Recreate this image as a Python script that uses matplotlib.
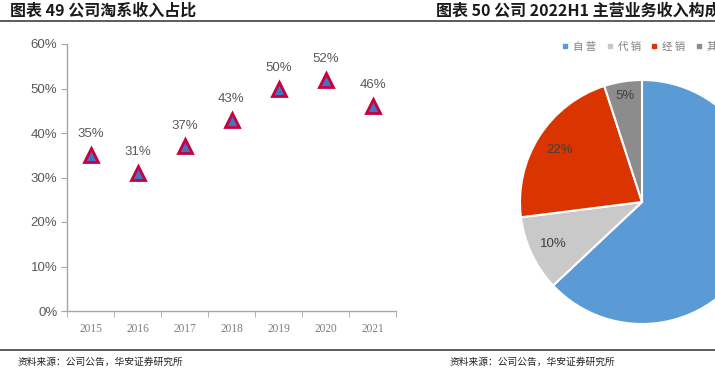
import math
import matplotlib
matplotlib.use("Agg")
import matplotlib.pyplot as plt
from matplotlib.lines import Line2D
from matplotlib.ticker import PercentFormatter

plt.rcParams['font.family'] = ['Noto Sans CJK SC', 'DejaVu Sans']

# left chart data
years = ['2015', '2016', '2017', '2018', '2019', '2020', '2021']
tao_share = [35, 31, 37, 43, 50, 52, 46]

# right chart data
pie_labels = ['自营', '代销', '经销', '其他']
pie_values = [63, 10, 22, 5]
pie_colors = ['#5B9BD5', '#C9C9C9', '#DA3500', '#8C8C8C']

W, H = 715, 377
fig = plt.figure(figsize=(W / 100, H / 100), dpi=100)

def fx(px):
    return px / W

def fy(py):
    return 1 - py / H

# titles and rules
fig.text(fx(10), fy(11), '图表 49 公司淘系收入占比', fontsize=11.5, fontweight='bold',
         color='#1a1a1a', va='center', ha='left')
fig.text(fx(436), fy(11), '图表 50 公司 2022H1 主营业务收入构成', fontsize=11.5, fontweight='bold',
         color='#1a1a1a', va='center', ha='left')
fig.add_artist(Line2D([0, 1], [fy(21), fy(21)], color='#404040', lw=1.2))
fig.add_artist(Line2D([0, 1], [fy(349.5), fy(349.5)], color='#404040', lw=1.2))
fig.text(fx(18), fy(362), '资料来源：公司公告，华安证券研究所', fontsize=7, color='#222222', va='center')
fig.text(fx(450), fy(362), '资料来源：公司公告，华安证券研究所', fontsize=7, color='#222222', va='center')

# left scatter chart
ax = fig.add_axes([fx(67), fy(311), fx(396) - fx(67), fy(44) - fy(311)])
x = list(range(len(years)))
ax.plot(x, tao_share, linestyle='none', marker='^', markersize=10.5,
        markerfacecolor='#4472C4', markeredgecolor='#C8003C', markeredgewidth=2)
for xi, v in zip(x, tao_share):
    ax.annotate(f'{v}%', (xi, v), xytext=(0, 15), textcoords='offset points',
                ha='center', va='center', fontsize=9.5, color='#595959',
                family=['Liberation Sans', 'DejaVu Sans'])
ax.set_xlim(-0.5, len(years) - 0.5)
ax.set_ylim(0, 60)
ax.set_yticks(range(0, 61, 10))
ax.yaxis.set_major_formatter(PercentFormatter(decimals=0))
ax.set_xticks(x)
ax.set_xticklabels(years)
ax.set_xticks([i - 0.5 for i in range(len(years) + 1)], minor=True)
ax.tick_params(axis='x', which='major', length=0, pad=9, labelsize=8.3, labelcolor='#7f7f7f')
ax.tick_params(axis='x', which='minor', length=4, color='#A6A6A6')
ax.tick_params(axis='y', length=4, color='#A6A6A6', labelsize=9.5, labelcolor='#595959', pad=3)
for lab in ax.get_xticklabels():
    lab.set_family(['Liberation Serif', 'DejaVu Serif'])
for lab in ax.get_yticklabels():
    lab.set_family(['Liberation Sans', 'DejaVu Sans'])
for s in ['top', 'right']:
    ax.spines[s].set_visible(False)
for s in ['left', 'bottom']:
    ax.spines[s].set_color('#A6A6A6')
    ax.spines[s].set_linewidth(1)

# right pie chart
r = 122
pax = fig.add_axes([fx(642 - r), fy(202 + r), fx(2 * r), fy(0) - fy(2 * r)])
wedges, texts = pax.pie(pie_values, colors=pie_colors, startangle=90, counterclock=False,
                        wedgeprops=dict(edgecolor='white', linewidth=1.5))
for w, v in zip(wedges, pie_values):
    ang = math.radians((w.theta1 + w.theta2) / 2)
    rr = 0.8 if v > 6 else 0.88
    pax.text(rr * math.cos(ang), rr * math.sin(ang), f'{v}%', ha='center', va='center',
             fontsize=9.5, color='#404040', family=['Liberation Sans', 'DejaVu Sans'])
pax.set_xlim(-1, 1)
pax.set_ylim(-1, 1)
pax.set_aspect('equal')
pax.axis('off')

# legend
handles = [Line2D([], [], linestyle='none', marker='s', markersize=3.5, color=c) for c in pie_colors]
leg_labels = [' '.join(l) for l in pie_labels]
fig.legend(handles, leg_labels, loc='center left', bbox_to_anchor=(fx(557), fy(47)), ncol=4,
           frameon=False, fontsize=7.5, handlelength=0.6, handletextpad=0.45,
           columnspacing=1.0, labelcolor='#7f7f7f', borderpad=0)

fig.savefig('out.png', dpi=100)
